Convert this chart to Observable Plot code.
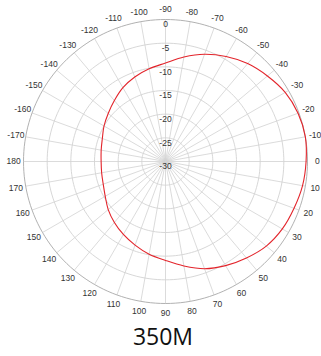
<!DOCTYPE html>
<html>
<head>
<meta charset="utf-8">
<script src="https://cdn.jsdelivr.net/npm/d3@7"></script>
<script src="https://cdn.jsdelivr.net/npm/@observablehq/plot@0.6"></script>
<style>
  body { margin: 0; background: #fff; }
  #title { font-family: "Open Sans", sans-serif; font-size: 23px; color: #111; text-align: center; width: 321px; padding-left: 5px; box-sizing: border-box; line-height: normal; }
</style>
</head>
<body>
<div id="chart"></div>
<div id="title">350M</div>
<script>
// Angle (degrees, clockwise from east) and measured gain (dB)
const angles = [-170, -160, -150, -140, -130, -120, -110, -100, -90, -80, -70, -60, -50, -40, -30, -20, -10,
                0, 10, 20, 30, 40, 50, 60, 70, 80, 90, 100, 110, 120, 130, 140, 150, 160, 170, 180];
const gains  = [-16.2, -15.8, -15.0, -14.2, -13.2, -12.0, -11.0, -10.1, -9.2, -7.6, -5.9, -4.4, -3.0, -1.9, -0.8, -0.2, 0.0,
                -0.3, -0.6, -1.1, -1.5, -2.2, -3.4, -4.6, -5.9, -7.6, -9.1, -10.1, -11.2, -12.2, -13.2, -14.2, -15.3, -16.0, -16.3, -16.4];
const ringLevels = [0, -5, -10, -15, -20, -25, -30];
const angleTicks = [-170, -160, -150, -140, -130, -120, -110, -100, -90, -80, -70, -60, -50, -40, -30, -20, -10,
                    0, 10, 20, 30, 40, 50, 60, 70, 80, 90, 100, 110, 120, 130, 140, 150, 160, 170, 180];

const floorDb = -30;
const rad = a => a * Math.PI / 180;
const px = (a, db) => (db - floorDb) * Math.cos(rad(a));
const py = (a, db) => (db - floorDb) * Math.sin(rad(a));

const pattern = angles.map((a, i) => ({angle: a, db: gains[i]}));

// grid rings
const ringPts = [];
for (const lv of ringLevels.filter(d => d > floorDb)) {
  for (let a = 0; a < 360; a += 2) ringPts.push({lv, angle: a});
}
const spokes = angleTicks.map(a => ({angle: a}));

const chart = Plot.plot({
  width: 321,
  height: 320,
  margin: 0,
  x: {domain: [-30, 30], range: [23, 307], axis: null},
  y: {domain: [-30, 30], range: [19, 303], axis: null},
  marks: [
    Plot.link(spokes, {x1: 0, y1: 0, x2: d => px(d.angle, 0), y2: d => py(d.angle, 0), stroke: "#d2d2d2", strokeWidth: 0.8}),
    Plot.line(ringPts, {x: d => px(d.angle, d.lv), y: d => py(d.angle, d.lv), z: "lv", curve: "linear-closed",
      stroke: d => d.lv === 0 ? "#a8a8a8" : "#d2d2d2", strokeWidth: 0.9}),
    Plot.line(pattern, {x: d => px(d.angle, d.db), y: d => py(d.angle, d.db), curve: "catmull-rom-closed",
      stroke: "#e3242b", strokeWidth: 1.1}),
    Plot.text(ringLevels, {x: 0, y: d => -(d - floorDb), text: d => String(d), dy: 5,
      fontSize: 8.5, fill: "#333", fontFamily: "Liberation Sans, Arial, sans-serif"}),
    Plot.text(angleTicks, {x: d => px(d, 2.1), y: d => py(d, 2.1), text: d => String(d),
      fontSize: 8.5, fill: "#333", fontFamily: "Liberation Sans, Arial, sans-serif"})
  ]
});
document.getElementById("chart").appendChild(chart);
</script>
</body>
</html>
